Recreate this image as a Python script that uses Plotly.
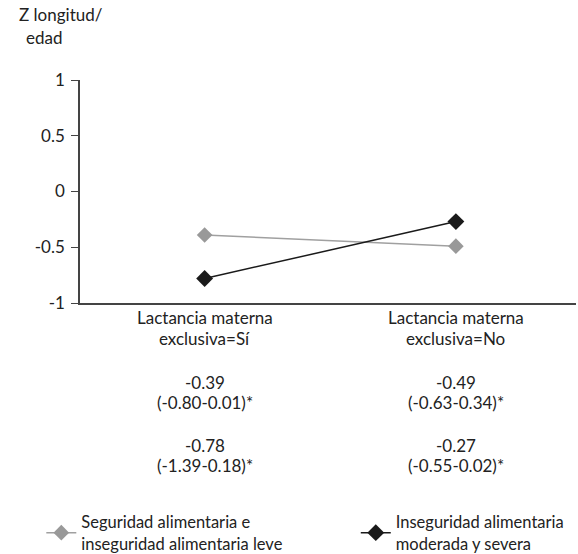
import plotly.graph_objects as go

categories = ["Lactancia materna<br>exclusiva=Sí", "Lactancia materna<br>exclusiva=No"]
series_names = ["Seguridad alimentaria e<br>inseguridad alimentaria leve",
                "Inseguridad alimentaria<br>moderada y severa"]
seguridad = [-0.39, -0.49]
inseguridad = [-0.78, -0.27]
ci_seguridad = ["(-0.80-0.01)*", "(-0.63-0.34)*"]
ci_inseguridad = ["(-1.39-0.18)*", "(-0.55-0.02)*"]
y_ticks = [-1, -0.5, 0, 0.5, 1]
y_tick_labels = ["-1", "-0.5", "0", "0.5", "1"]

FONT = "Lato, 'Open Sans', sans-serif"
TXT = "#222222"
xpos = list(range(len(categories)))

fig = go.Figure()
fig.add_trace(go.Scatter(
    x=xpos, y=seguridad, name=series_names[0], mode="lines+markers",
    line=dict(color="#a0a0a0", width=1.5),
    marker=dict(symbol="diamond", size=12, color="#999999"),
    legend="legend",
))
fig.add_trace(go.Scatter(
    x=xpos, y=inseguridad, name=series_names[1], mode="lines+markers",
    line=dict(color="#1a1a1a", width=1.5),
    marker=dict(symbol="diamond", size=13, color="#1a1a1a"),
    legend="legend2",
))

# category labels (two lines each)
for i in xpos:
    for line_text, yp in zip(categories[i].split("<br>"), (-0.0628, -0.1614)):
        fig.add_annotation(
            x=i, xref="x", y=yp, yref="paper", showarrow=False,
            text=line_text, font=dict(family=FONT, size=17, color=TXT),
            yanchor="middle",
        )

blocks = ((seguridad, ci_seguridad, -0.3587, -0.4484),
          (inseguridad, ci_inseguridad, -0.6368, -0.7265))
for i in xpos:
    for vals, cis, y1, y2 in blocks:
        fig.add_annotation(
            x=i, xref="x", y=y1, yref="paper", showarrow=False,
            text=f"{vals[i]:.2f}", font=dict(family=FONT, size=17, color=TXT),
            yanchor="middle",
        )
        fig.add_annotation(
            x=i, xref="x", y=y2, yref="paper", showarrow=False,
            text=cis[i], font=dict(family=FONT, size=17, color=TXT),
            yanchor="middle",
        )

fig.add_annotation(
    x=-0.0373, xref="paper", y=1.2915, yref="paper", showarrow=False,
    text="Z longitud/", font=dict(family=FONT, size=17, color=TXT),
    xanchor="center", yanchor="middle",
)
fig.add_annotation(
    x=-0.0716, xref="paper", y=1.1928, yref="paper", showarrow=False,
    text="edad", font=dict(family=FONT, size=17, color=TXT),
    xanchor="center", yanchor="middle",
)

legend_common = dict(
    orientation="v", xanchor="left", y=-1.03, yanchor="middle",
    font=dict(family=FONT, size=16.5, color=TXT), itemclick=False,
    bgcolor="rgba(0,0,0,0)",
)

fig.update_layout(
    width=578, height=554,
    margin=dict(l=80, r=2, t=80, b=251, autoexpand=False),
    paper_bgcolor="white", plot_bgcolor="white",
    font=dict(family=FONT, size=17, color=TXT),
    showlegend=True,
    legend=dict(x=-0.078, **legend_common),
    legend2=dict(x=0.556, **legend_common),
    xaxis=dict(
        range=[-0.496, 1.478], tickmode="array", tickvals=xpos,
        showticklabels=False,
        showline=True, linecolor="#444444", linewidth=1.5, ticks="", showgrid=False,
        zeroline=False,
    ),
    yaxis=dict(
        range=[-1, 1], tickmode="array", tickvals=y_ticks, ticktext=y_tick_labels,
        showline=True, linecolor="#444444", linewidth=1.5, ticks="outside",
        ticklen=7, tickcolor="#444444", showgrid=False, zeroline=False,
        ticklabelstandoff=3,
        tickfont=dict(family=FONT, size=17, color=TXT),
    ),
)

fig.write_html(
    "out.html",
    config={"displayModeBar": False},
    post_script="document.body.style.margin='0';document.body.style.overflow='hidden';",
)
